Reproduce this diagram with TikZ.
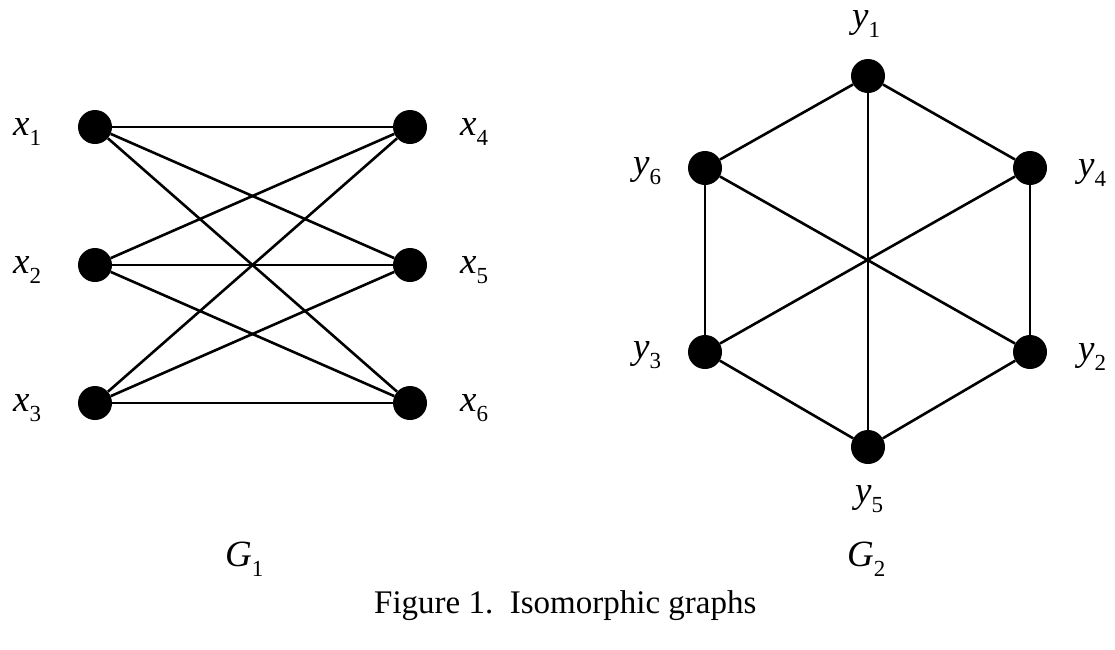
\documentclass[tikz,border=0pt]{standalone}
\usepackage{fontspec}
\setmainfont{Liberation Serif}
\newcommand\lab[2]{\textit{#1}\raisebox{-0.28em}{\fontsize{23}{23}\selectfont #2}}
\begin{document}
\begin{tikzpicture}[x=1pt,y=-1pt,
  vtx/.style={circle,fill=black,inner sep=0pt,minimum size=34pt},
  edge/.style={line width=2.6pt},
  thin edge/.style={line width=1.6pt},
  lbl/.style={anchor=base west,inner sep=0pt,font=\fontsize{37}{40}\selectfont}]
\useasboundingbox[fill=white] (0,0) rectangle (1115,649);
% G1
\node[vtx] (x1) at (95,127) {};
\node[vtx] (x2) at (95,265) {};
\node[vtx] (x3) at (95,403) {};
\node[vtx] (x4) at (410,127) {};
\node[vtx] (x5) at (410,265) {};
\node[vtx] (x6) at (410,403) {};
\draw[thin edge] (x1) -- (x4);
\draw[edge] (x1) -- (x5);
\draw[edge] (x1) -- (x6);
\draw[edge] (x2) -- (x4);
\draw[edge] (x2) -- (x5);
\draw[edge] (x2) -- (x6);
\draw[edge] (x3) -- (x4);
\draw[edge] (x3) -- (x5);
\draw[edge] (x3) -- (x6);
\node[lbl] (lx1) at (13,135) {\lab{x}{1}};
\node[lbl] (lx2) at (13,273) {\lab{x}{2}};
\node[lbl] (lx3) at (13,411) {\lab{x}{3}};
\node[lbl] (lx4) at (460,135) {\lab{x}{4}};
\node[lbl] (lx5) at (460,273) {\lab{x}{5}};
\node[lbl] (lx6) at (460,411) {\lab{x}{6}};
% G2
\node[vtx] (y1) at (868,76) {};
\node[vtx] (y6) at (705,168) {};
\node[vtx] (y4) at (1030,168) {};
\node[vtx] (y3) at (705,352) {};
\node[vtx] (y2) at (1030,352) {};
\node[vtx] (y5) at (868,447) {};
\draw[edge] (y1) -- (y4);
\draw[thin edge] (y4) -- (y2);
\draw[edge] (y2) -- (y5);
\draw[edge] (y5) -- (y3);
\draw[edge] (y3) -- (y6);
\draw[edge] (y6) -- (y1);
\draw[thin edge] (y1) -- (y5);
\draw[edge] (y6) -- (y2);
\draw[edge] (y4) -- (y3);
\node[lbl] (ly1) at (852,27) {\lab{y}{1}};
\node[lbl] (ly6) at (633,174) {\lab{y}{6}};
\node[lbl] (ly4) at (1078,176) {\lab{y}{4}};
\node[lbl] (ly3) at (633,358) {\lab{y}{3}};
\node[lbl] (ly2) at (1078,360) {\lab{y}{2}};
\node[lbl] (ly5) at (855,502) {\lab{y}{5}};
% titles
\node[lbl] (g1) at (225,566) {\lab{G}{1}};
\node[lbl] (g2) at (847,566) {\lab{G}{2}};
\node[lbl,font=\fontsize{33}{38}\selectfont] (cap) at (374,613) {Figure 1.\ \ Isomorphic graphs};
\end{tikzpicture}
\end{document}
